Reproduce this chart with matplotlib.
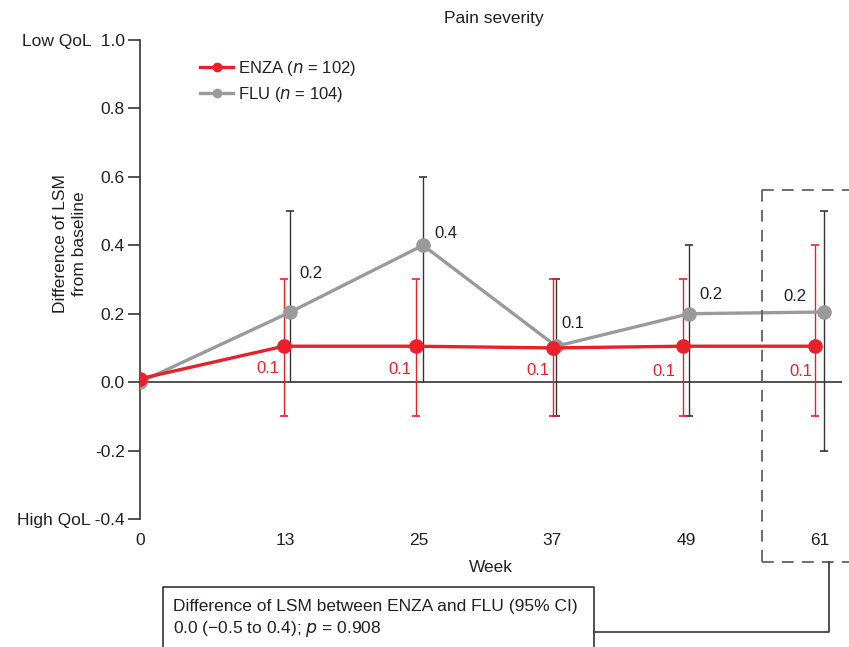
import matplotlib
matplotlib.use("Agg")
import matplotlib.pyplot as plt
from matplotlib.lines import Line2D

plt.rcParams['font.family'] = ['Liberation Sans', 'DejaVu Sans']

weeks = [0, 13, 25, 37, 49, 61]
week_labels = ['0', '13', '25', '37', '49', '61']
enza = [0.01, 0.105, 0.105, 0.10, 0.105, 0.105]
enza_lo = [None, -0.1, -0.1, -0.1, -0.1, -0.1]
enza_hi = [None, 0.3, 0.3, 0.3, 0.3, 0.4]
enza_lbl = ['', '0.1', '0.1', '0.1', '0.1', '0.1']
flu = [0.0, 0.205, 0.40, 0.105, 0.20, 0.205]
flu_lo = [None, 0.0, 0.0, -0.1, -0.1, -0.2]
flu_hi = [None, 0.5, 0.6, 0.3, 0.4, 0.5]
flu_lbl = ['', '0.2', '0.4', '0.1', '0.2', '0.2']
yticks = [-0.4, -0.2, 0.0, 0.2, 0.4, 0.6, 0.8, 1.0]
ytick_labels = ['High QoL -0.4', '-0.2', '0.0', '0.2', '0.4', '0.6', '0.8', 'Low QoL  1.0']

RED = '#E8202A'
GRAY = '#9A9A9C'
TXT = '#231F20'

W, H = 849, 647
fig = plt.figure(figsize=(W / 100, H / 100), dpi=100)
ax = fig.add_axes([140 / W, 1 - 519 / H, (842 - 140) / W, 479 / H])

# small horizontal offsets so the two series' bars do not overlap (layout)
shift_e = [0, -0.1, -0.2, 0.05, -0.3, -0.4]
shift_f = [0, 0.5, 0.4, 0.35, 0.3, 0.4]
xe = [w + s for w, s in zip(weeks, shift_e)]
xf = [w + s for w, s in zip(weeks, shift_f)]

# error bars
for i in range(1, len(weeks)):
    ax.vlines(xf[i], flu_lo[i], flu_hi[i], color='#333333', lw=1.0, zorder=2)
    ax.plot([xf[i]], [flu_hi[i]], marker='_', ms=6, mew=1.2, color='#333333', zorder=2)
    if flu_lo[i] < 0:
        ax.plot([xf[i]], [flu_lo[i]], marker='_', ms=6, mew=1.2, color='#333333', zorder=2)
    ax.vlines(xe[i], enza_lo[i], enza_hi[i], color=RED, lw=1.0, zorder=2)
    ax.plot([xe[i]], [enza_hi[i]], marker='_', ms=6, mew=1.2, color=RED, zorder=2)
    ax.plot([xe[i]], [enza_lo[i]], marker='_', ms=6, mew=1.2, color=RED, zorder=2)

ax.axhline(0, color='#333333', lw=1.2, zorder=1)

ax.plot(xf, flu, color=GRAY, lw=2.4, marker='o', ms=9.5, zorder=3)
ax.plot(xe, enza, color=RED, lw=2.4, marker='o', ms=9.5, zorder=4)

# value labels (offsets in pixels)
flu_off = [None, (21, 39), (23, 12), (17, 23), (22, 19), (-29, 16)]
enza_off = [None, (-16, -22), (-16, -23), (-15, -23), (-19, -25), (-14, -25)]
for i in range(1, len(weeks)):
    dx, dy = flu_off[i]
    ax.annotate(flu_lbl[i], (xf[i], flu[i]), xytext=(dx * 0.72, dy * 0.72),
                textcoords='offset points', ha='center', va='center',
                fontsize=12, color=TXT)
    dx, dy = enza_off[i]
    ax.annotate(enza_lbl[i], (xe[i], enza[i]), xytext=(dx * 0.72, dy * 0.72),
                textcoords='offset points', ha='center', va='center',
                fontsize=12, color=RED)

ax.set_xlim(0, 63)
ax.set_ylim(-0.4, 1.0)
ax.set_yticks(yticks)
ax.set_yticklabels(ytick_labels)
ax.set_xticks(weeks)
ax.set_xticklabels(week_labels)
for s in ['top', 'right', 'bottom']:
    ax.spines[s].set_visible(False)
ax.spines['left'].set_color('#333333')
ax.spines['left'].set_linewidth(1.2)
ax.tick_params(axis='y', length=9, width=1.2, color='#333333', pad=2,
               labelsize=12.5, labelcolor=TXT)
ax.tick_params(axis='x', length=0, pad=10, labelsize=12.5, labelcolor=TXT)

ax.set_xlabel('Week', fontsize=12.5, color=TXT, labelpad=9)
ax.set_ylabel('Difference of LSM\nfrom baseline', fontsize=12.5, color=TXT,
              linespacing=1.4)
ax.yaxis.set_label_coords(-0.075, 0.575)
fig.text(494 / W, 1 - 18 / H, 'Pain severity', ha='center', va='center',
         fontsize=12.5, color=TXT)

handles = [Line2D([], [], color=RED, lw=2.4, marker='o', ms=6),
           Line2D([], [], color=GRAY, lw=2.4, marker='o', ms=6)]
leg = ax.legend(handles, ['ENZA ($\\it{n}$ = 102)', 'FLU ($\\it{n}$ = 104)'],
                loc='upper left', bbox_to_anchor=(0.076, 0.975), frameon=False,
                fontsize=12, handlelength=2.0, handletextpad=0.3,
                labelspacing=0.45, borderaxespad=0)
for t in leg.get_texts():
    t.set_color(TXT)

# dashed highlight box and connector (figure pixel coords)
def fx(p):
    return p / W

def fy(p):
    return 1 - p / H

dash = dict(color='#555555', lw=1.2, ls=(0, (7, 5)), transform=fig.transFigure, clip_on=False)
fig.add_artist(Line2D([fx(762), fx(849)], [fy(190), fy(190)], **dash))
fig.add_artist(Line2D([fx(762), fx(762)], [fy(190), fy(562)], **dash))
fig.add_artist(Line2D([fx(762), fx(849)], [fy(562), fy(562)], **dash))
solid = dict(color='#333333', lw=1.2, transform=fig.transFigure, clip_on=False)
fig.add_artist(Line2D([fx(829), fx(829), fx(594)], [fy(562), fy(632), fy(632)], **solid))
fig.add_artist(Line2D([fx(163), fx(163), fx(594), fx(594)],
                      [fy(650), fy(587), fy(587), fy(650)], **solid))
fig.text(fx(173), fy(607), 'Difference of LSM between ENZA and FLU (95% CI)',
         ha='left', va='center', fontsize=12.5, color=TXT)
fig.text(fx(173), fy(629), '0.0 (\u22120.5 to 0.4); $\\it{p}$ = 0.908',
         ha='left', va='center', fontsize=12.5, color=TXT)

fig.savefig('out.png', dpi=100)
